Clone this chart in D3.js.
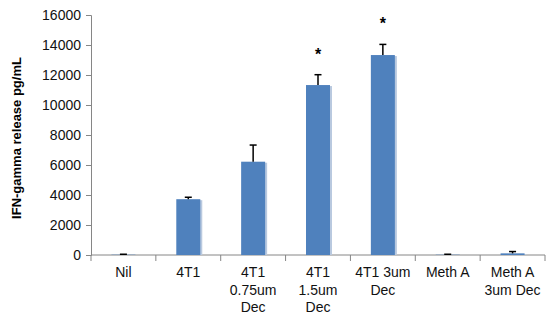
<!DOCTYPE html>
<html>
<head>
<meta charset="utf-8">
<script src="https://cdn.jsdelivr.net/npm/d3@7"></script>
<style>
  body { margin: 0; background: #fff; }
  svg { display: block; }
  text { font-family: "Liberation Sans", Arial, sans-serif; }
</style>
</head>
<body>
<svg id="chart" width="548" height="322"></svg>
<script>
const categories = [["Nil"], ["4T1"], ["4T1", "0.75um", "Dec"], ["4T1", "1.5um", "Dec"], ["4T1 3um", "Dec"], ["Meth A"], ["Meth A", "3um Dec"]];
const values = [20, 3720, 6220, 11330, 13330, 20, 110];
const errors = [30, 130, 1110, 690, 710, 30, 120];
const significant = [false, false, false, true, true, false, false];
const yTicks = [0, 2000, 4000, 6000, 8000, 10000, 12000, 14000, 16000];

const svg = d3.select("#chart");
const margin = { left: 91, right: 545, top: 15, bottom: 255 };

const x = d3.scaleBand().domain(d3.range(categories.length)).range([margin.left, margin.right]);
const y = d3.scaleLinear().domain([0, 16000]).range([margin.bottom, margin.top]);

const axisColor = "#868686";
const barColor = "#4F81BD";
const barW = x.bandwidth() * 0.37;

// y axis
const yAxis = svg.append("g").attr("transform", `translate(${margin.left},0)`)
  .call(d3.axisLeft(y).tickValues(yTicks).tickSize(5).tickPadding(5).tickFormat(d3.format("d")));
yAxis.select(".domain").attr("stroke", axisColor);
yAxis.selectAll(".tick line").attr("stroke", axisColor);
yAxis.selectAll(".tick text").attr("font-size", 14).attr("fill", "#111")
  .style("font-family", '"Liberation Sans", Arial, sans-serif');

// x axis
const xAxisG = svg.append("g").attr("transform", `translate(0,${margin.bottom})`);
xAxisG.append("line").attr("x1", margin.left).attr("x2", margin.right)
  .attr("stroke", axisColor);
const boundaries = d3.range(categories.length + 1).map(i => i < categories.length ? x(i) : x(categories.length - 1) + x.bandwidth());
xAxisG.selectAll("line.tk").data(boundaries).join("line").attr("class", "tk")
  .attr("x1", d => d).attr("x2", d => d).attr("y1", 0).attr("y2", 6).attr("stroke", axisColor);

// category labels
const lab = svg.append("g");
categories.forEach((lines, i) => {
  const t = lab.append("text").attr("text-anchor", "middle").attr("font-size", 14).attr("fill", "#111")
    .attr("x", x(i) + x.bandwidth() / 2).attr("y", 277);
  lines.forEach((l, j) => t.append("tspan").attr("x", x(i) + x.bandwidth() / 2).attr("dy", j === 0 ? 0 : 17.5).text(l));
});

// bars with shadow
const cx = i => x(i) + x.bandwidth() / 2;
svg.append("g").selectAll("rect.sh").data(values).join("rect").attr("class", "sh")
  .attr("x", (d, i) => cx(i) - barW / 2 + 2).attr("width", barW)
  .attr("y", d => y(d) + 1).attr("height", d => Math.max(0, y(0) - y(d) - 1))
  .attr("fill", "#b9c9df");
svg.append("g").selectAll("rect.bar").data(values).join("rect").attr("class", "bar")
  .attr("x", (d, i) => cx(i) - barW / 2).attr("width", barW)
  .attr("y", d => y(d)).attr("height", d => y(0) - y(d))
  .attr("fill", barColor);

// error bars
const eb = svg.append("g").attr("stroke", "#000").attr("stroke-width", 1.5);
values.forEach((v, i) => {
  eb.append("line").attr("x1", cx(i)).attr("x2", cx(i)).attr("y1", y(v)).attr("y2", y(v + errors[i]));
  eb.append("line").attr("x1", cx(i) - 3.5).attr("x2", cx(i) + 3.5).attr("y1", y(v + errors[i])).attr("y2", y(v + errors[i]));
});

// significance stars
values.forEach((v, i) => {
  if (!significant[i]) return;
  svg.append("text").attr("x", cx(i)).attr("y", y(v + errors[i]) - 15)
    .attr("text-anchor", "middle").attr("font-size", 16).attr("font-weight", "bold").attr("fill", "#000").text("*");
});

// y title
svg.append("text").attr("transform", "translate(21,138) rotate(-90)")
  .attr("text-anchor", "middle").attr("font-size", 13).attr("font-weight", "bold").attr("fill", "#000")
  .text("IFN-gamma release pg/mL");
</script>
</body>
</html>
